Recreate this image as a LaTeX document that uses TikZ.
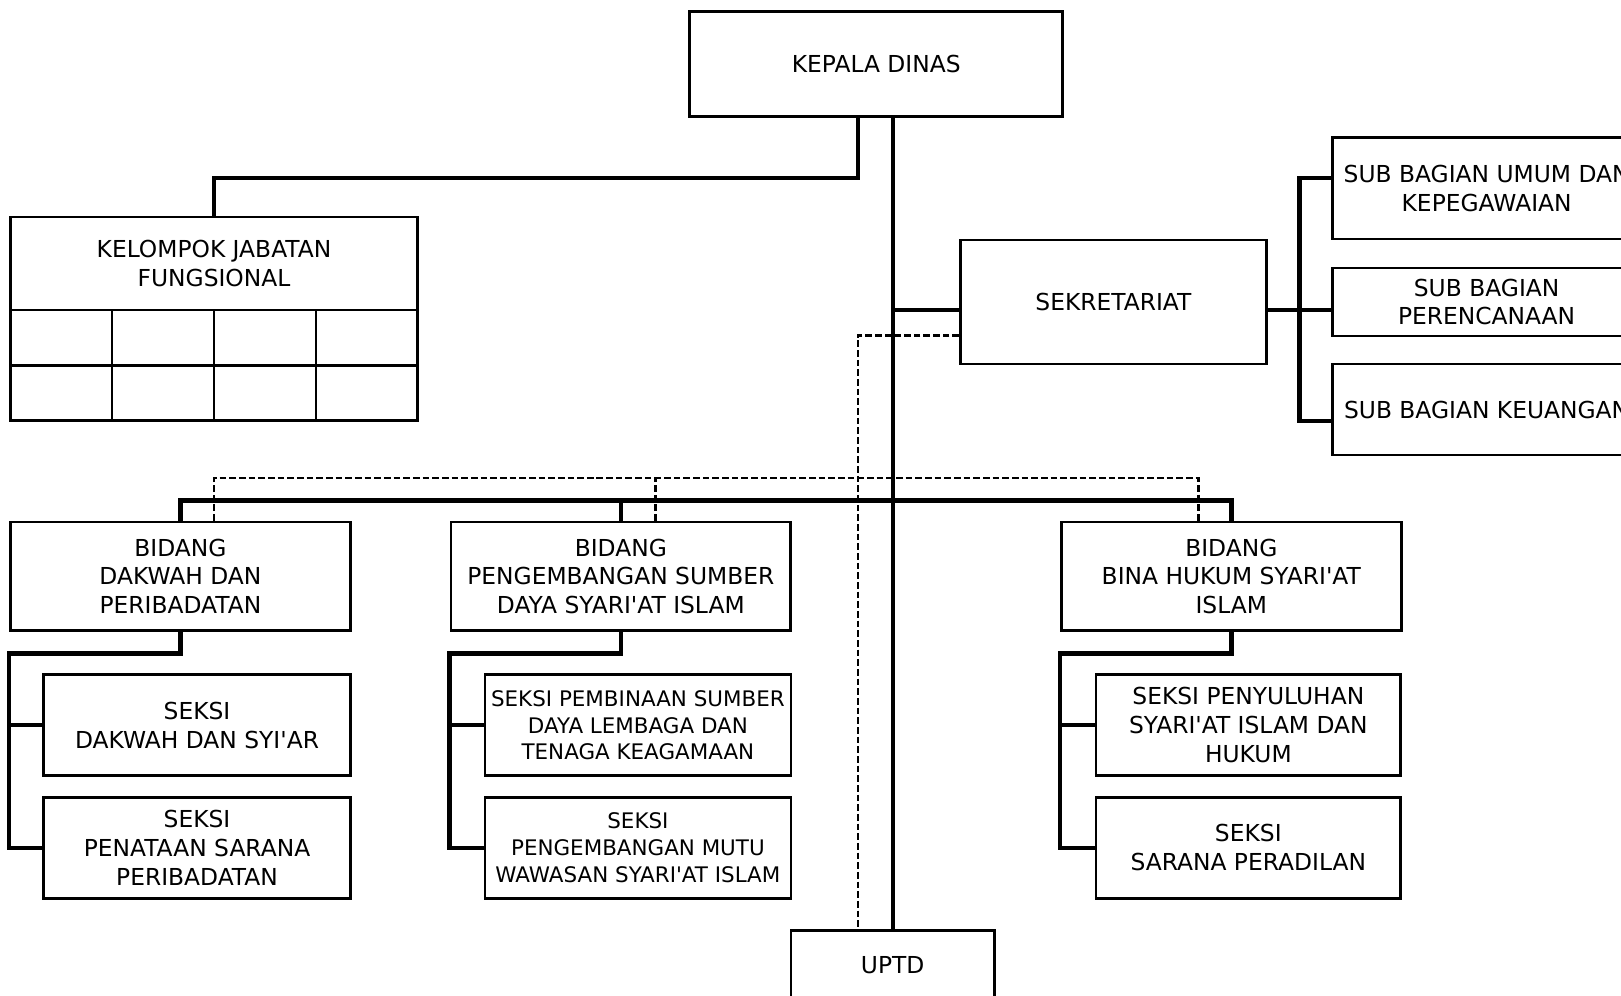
\documentclass[tikz,border=0pt]{standalone}
\usepackage{fontspec}
\setmainfont{DejaVu Sans}
\usepackage{tikz}
\newcommand{\aps}{\textquotesingle}

\begin{document}
\begin{tikzpicture}[x=0.02cm, y=-0.02cm]
    \tikzstyle{unit} = [rectangle, draw, line width=1.5pt, align=center, inner sep=2pt, font=\fontsize{13.3}{16.4}\selectfont]
    \tikzstyle{smallunit} = [unit, font=\fontsize{12.2}{15.2}\selectfont]
    \tikzstyle{cell} = [rectangle, draw, line width=1.5pt, minimum width=2.037cm, minimum height=1.108cm, inner sep=0pt]
    \tikzstyle{link} = [line width=2.5pt]
    \tikzstyle{dashlink} = [line width=1.5pt, dash pattern=on 3.8pt off 1.7pt]

    \path [use as bounding box, clip] (0,0) rectangle (1621,995);

    % Pimpinan
    \node [unit, minimum width=7.464cm, minimum height=2.108cm] (kepala) at (876.2,64.1) {KEPALA DINAS};

    % Kelompok jabatan fungsional
    \node [unit, minimum width=8.148cm, minimum height=1.86cm] (kjf) at (214,263.5) {KELOMPOK JABATAN\\FUNGSIONAL};
    \foreach \i in {0,...,3}
        \foreach \j in {0,1}
            \node [cell] (cell\i\j) at (61.2+101.85*\i, 337.7+55.4*\j) {};

    % Sekretariat dan sub bagian
    \node [unit, minimum width=6.12cm, minimum height=2.48cm] (sek) at (1113.4,301.9) {SEKRETARIAT};
    \node [unit, minimum width=6.16cm, minimum height=2.026cm] (sub1) at (1486.6,188.2) {SUB BAGIAN UMUM DAN\\KEPEGAWAIAN};
    \node [unit, minimum width=6.16cm, minimum height=1.364cm] (sub2) at (1486.6,301.9) {SUB BAGIAN\\PERENCANAAN};
    \node [unit, minimum width=6.16cm, minimum height=1.82cm] (sub3) at (1486.6,409.5) {SUB BAGIAN KEUANGAN};

    % Bidang
    \node [unit, minimum width=6.8cm, minimum height=2.172cm] (b1) at (180.4,576.3) {BIDANG\\DAKWAH DAN\\PERIBADATAN};
    \node [unit, minimum width=6.8cm, minimum height=2.172cm] (b2) at (620.8,576.3) {BIDANG\\PENGEMBANGAN SUMBER\\DAYA SYARI\aps AT ISLAM};
    \node [unit, minimum width=6.8cm, minimum height=2.172cm] (b3) at (1231.3,576.3) {BIDANG\\BINA HUKUM SYARI\aps AT\\ISLAM};

    % Seksi
    \node [unit, minimum width=6.14cm, minimum height=2.02cm] (s11) at (197,725.2) {SEKSI\\DAKWAH DAN SYI\aps AR};
    \node [unit, minimum width=6.14cm, minimum height=2.02cm] (s12) at (197,847.7) {SEKSI\\PENATAAN SARANA\\PERIBADATAN};
    \node [smallunit, minimum width=6.12cm, minimum height=2.02cm] (s21) at (637.9,725.2) {SEKSI PEMBINAAN SUMBER\\DAYA LEMBAGA DAN\\TENAGA KEAGAMAAN};
    \node [smallunit, minimum width=6.12cm, minimum height=2.02cm] (s22) at (637.9,847.7) {SEKSI\\PENGEMBANGAN MUTU\\WAWASAN SYARI\aps AT ISLAM};
    \node [unit, minimum width=6.1cm, minimum height=2.02cm] (s31) at (1248.3,725.2) {SEKSI PENYULUHAN\\SYARI\aps AT ISLAM DAN\\HUKUM};
    \node [unit, minimum width=6.1cm, minimum height=2.02cm] (s32) at (1248.3,847.7) {SEKSI\\SARANA PERADILAN};

    % UPTD
    \node [unit, minimum width=4.072cm, minimum height=1.4cm] (uptd) at (892.7,965.5) {UPTD};

    % Titik bantu
    \coordinate (kjfbend) at (858,177.8);
    \coordinate (sekjoin) at ([yshift=-0.163cm]sek.west);
    \coordinate (subjoin) at ([yshift=-0.163cm]sek.east);
    \coordinate (brtop) at (1299.5,177.8);
    \coordinate (brbot) at (1299.5,420.8);
    \coordinate (dashbend) at (858,335.3);
    \coordinate (bus) at (0,500.4);
    \coordinate (dbus) at (0,478);
    \coordinate (d1) at ([xshift=0.672cm]b1.north);
    \coordinate (d2) at ([xshift=0.692cm]b2.north);
    \coordinate (d3) at ([xshift=-0.662cm]b3.north);

    % Garis komando
    \draw [link] (kepala.south -| uptd.north) -- (uptd.north);
    \draw [link] (kepala.south -| kjfbend) -- (kjfbend) -| (kjf.north);
    \draw [link] (sekjoin -| uptd.north) -- (sekjoin);
    \draw [link] (subjoin) -- (subjoin -| sub2.west);
    \draw [link] (brtop -| sub1.west) -- (brtop) -- (brbot) -- (brbot -| sub3.west);
    \draw [link] (b1.north) -- (b1.north |- bus) -- (b3.north |- bus) -- (b3.north);
    \draw [link] (b2.north) -- (b2.north |- bus);
    \foreach \c in {1,2,3} {
        \draw [link] (b\c.south) -- ++(0,21.7) -| (b\c.south west |- s\c2.west) -- (s\c2.west);
        \draw [link] (b\c.south west |- s\c1.west) -- (s\c1.west);
    }

    % Garis koordinasi
    \draw [dashlink] (sek.west |- dashbend) -- (dashbend) -- (dashbend |- uptd.north);
    \draw [dashlink] (d1) -- (d1 |- dbus) -- (d3 |- dbus) -- (d3);
    \draw [dashlink] (d2) -- (d2 |- dbus);
\end{tikzpicture}
\end{document}
